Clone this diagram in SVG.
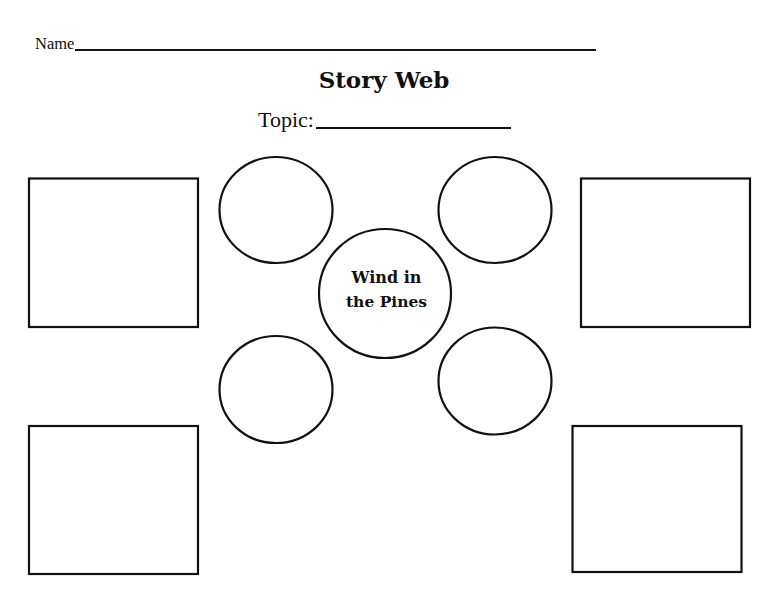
<svg xmlns="http://www.w3.org/2000/svg" width="768" height="594" viewBox="0 0 768 594">
  <style>
    .shape { fill: #ffffff; stroke: #111111; stroke-width: 2.2; }
    .rule { stroke: #111111; stroke-width: 2; }
    .label { font-family: "Liberation Serif", "Times New Roman", serif; fill: #111111; }
    .bold { font-family: "DejaVu Serif", "Liberation Serif", serif; font-weight: bold; fill: #111111; }
  </style>
  <rect x="0" y="0" width="768" height="594" fill="#ffffff"/>
  <g id="header">
    <text class="label" x="35" y="49" font-size="16.5">Name</text>
    <line class="rule" x1="75" y1="50" x2="596" y2="50"/>
    <text class="bold" x="384" y="87.5" font-size="23" text-anchor="middle">Story Web</text>
    <text class="label" x="258" y="127" font-size="22">Topic:</text>
    <line class="rule" x1="316" y1="128" x2="511" y2="128"/>
  </g>
  <g id="connectors"/>
  <g id="box-top-left">
    <rect class="shape" x="29" y="178.5" width="169" height="148.5"/>
  </g>
  <g id="box-bottom-left">
    <rect class="shape" x="29" y="426" width="169" height="148"/>
  </g>
  <g id="box-top-right">
    <rect class="shape" x="581" y="178.5" width="169" height="148.5"/>
  </g>
  <g id="box-bottom-right">
    <rect class="shape" x="572.5" y="426" width="169" height="146"/>
  </g>
  <g id="circle-top-left">
    <ellipse class="shape" cx="276" cy="210" rx="56.5" ry="53"/>
  </g>
  <g id="circle-top-right">
    <ellipse class="shape" cx="495" cy="210" rx="56.5" ry="53"/>
  </g>
  <g id="circle-bottom-left">
    <ellipse class="shape" cx="276" cy="389.5" rx="56.5" ry="53.5"/>
  </g>
  <g id="circle-bottom-right">
    <ellipse class="shape" cx="495" cy="381" rx="56.5" ry="53.5"/>
  </g>
  <g id="center">
    <ellipse class="shape" cx="385" cy="293.5" rx="66" ry="64.5"/>
    <text class="bold" x="386.5" y="283" font-size="16" text-anchor="middle">Wind in</text>
    <text class="bold" x="386.5" y="306.5" font-size="15.5" text-anchor="middle">the Pines</text>
  </g>
</svg>
